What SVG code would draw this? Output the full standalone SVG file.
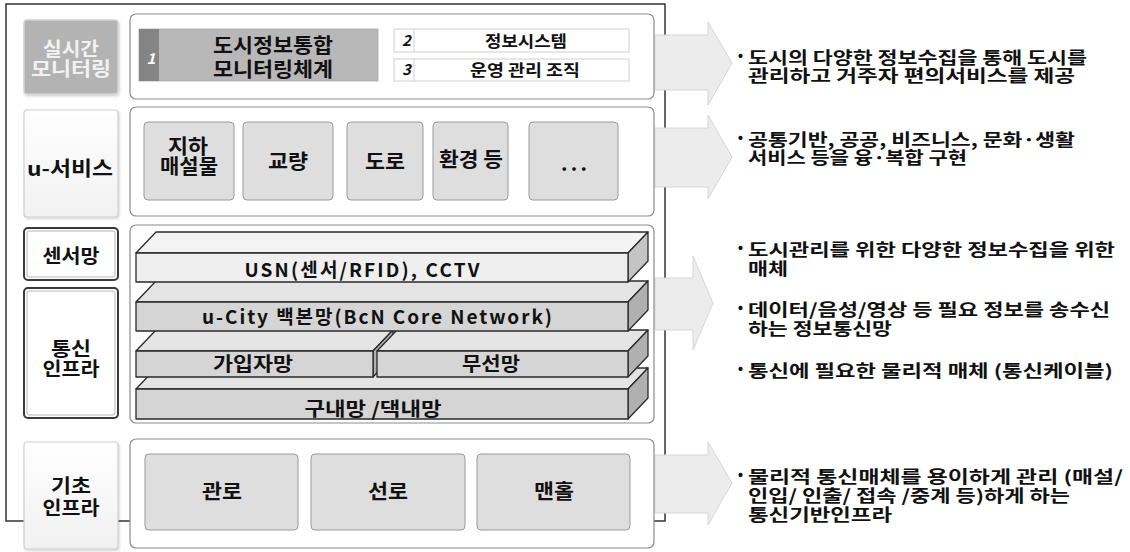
<svg xmlns="http://www.w3.org/2000/svg" width="1130" height="552" viewBox="0 0 1130 552">
<defs>
<style>
text{font-family:"Noto Sans CJK KR","Liberation Sans",sans-serif;font-weight:bold;fill:#111}
.c{text-anchor:middle}
.lbl{font-size:19px}
.rt{font-size:20px}
.ds{font-size:17px}
.bul{font-size:22px}
.panel{fill:#fff;stroke:#8c8c8c;stroke-width:1.2}
.gbox{fill:#dedede;stroke:#9a9a9a;stroke-width:1}
.arrow{fill:#ececec;stroke:#d6d6d6;stroke-width:1}
.slab{stroke:#2a2a2a;stroke-width:1.3;stroke-linejoin:round}
.num{font-style:italic;font-size:15px}
</style>
<linearGradient id="wg" x1="0" y1="0" x2="0" y2="1">
<stop offset="0" stop-color="#ffffff"/>
<stop offset="1" stop-color="#f1f1f1"/>
</linearGradient>
<filter id="sh" x="-10%" y="-10%" width="130%" height="130%">
<feDropShadow dx="1" dy="1.5" stdDeviation="1.2" flood-color="#000" flood-opacity="0.18"/>
</filter>
</defs>

<!-- outer frame -->
<rect x="6" y="4" width="659" height="517" fill="none" stroke="#333" stroke-width="1.5"/>

<!-- connectors: arrows -->
<g id="connectors">
<polygon class="arrow" points="655,35 708,35 708,22 732,63 708,105 708,90 655,90"/>
<polygon class="arrow" points="655,128 708,128 708,115 732,157 708,199 708,187 655,187"/>
<polygon class="arrow" points="655,278 693,278 693,256 713,303 693,350 693,330 655,330"/>
<polygon class="arrow" points="655,455 708,455 708,442 732,483 708,525 708,513 655,513"/>
</g>

<!-- left labels -->
<g id="label-realtime">
<rect x="24" y="20" width="94" height="74" rx="3" fill="#b3b3b3" stroke="#d4d4d4" stroke-width="1.5" filter="url(#sh)"/>
<text class="c lbl" style="fill:#f2f2f2"><tspan x="71" y="56" textLength="56" lengthAdjust="spacingAndGlyphs">실시간</tspan><tspan x="71" y="76" textLength="80" lengthAdjust="spacingAndGlyphs">모니터링</tspan></text>
</g>
<g id="label-uservice">
<rect x="24" y="110" width="94" height="107" rx="3" fill="url(#wg)" stroke="#cfcfcf" stroke-width="1.2" filter="url(#sh)"/>
<text class="c" x="70" y="176" style="font-size:20px" textLength="86" lengthAdjust="spacingAndGlyphs">u-서비스</text>
</g>
<g id="label-sensor">
<rect x="24" y="228" width="94" height="52" rx="4" fill="#fff" stroke="#3a3a3a" stroke-width="2"/>
<rect x="27" y="231" width="88" height="46" rx="2" fill="none" stroke="#b5b5b5" stroke-width="1"/>
<text class="c lbl" x="71" y="263" textLength="57" lengthAdjust="spacingAndGlyphs">센서망</text>
</g>
<g id="label-comm">
<rect x="24" y="288" width="94" height="130" rx="4" fill="#fff" stroke="#3a3a3a" stroke-width="2"/>
<rect x="27" y="291" width="88" height="124" rx="2" fill="none" stroke="#b5b5b5" stroke-width="1"/>
<text class="c lbl"><tspan x="71" y="356" textLength="40" lengthAdjust="spacingAndGlyphs">통신</tspan><tspan x="71" y="376" textLength="57" lengthAdjust="spacingAndGlyphs">인프라</tspan></text>
</g>
<g id="label-base">
<rect x="24" y="442" width="94" height="107" rx="3" fill="url(#wg)" stroke="#cfcfcf" stroke-width="1.2" filter="url(#sh)"/>
<text class="c lbl"><tspan x="71" y="493" textLength="40" lengthAdjust="spacingAndGlyphs">기초</tspan><tspan x="71" y="515" textLength="57" lengthAdjust="spacingAndGlyphs">인프라</tspan></text>
</g>

<!-- panel 1 -->
<g id="panel-monitoring">
<rect class="panel" x="130" y="14" width="524" height="85" rx="6"/>
<rect x="139" y="29" width="239" height="52" fill="#b8b8b8" stroke="#a8a8a8" stroke-width="0.8"/>
<rect x="139" y="29" width="20" height="52" fill="#858585"/>
<text x="151" y="64" class="c" style="font-size:15px;font-style:italic;fill:#fff">1</text>
<text class="c" style="font-size:20px"><tspan x="273" y="53" textLength="120" lengthAdjust="spacingAndGlyphs">도시정보통합</tspan><tspan x="273" y="77" textLength="120" lengthAdjust="spacingAndGlyphs">모니터링체계</tspan></text>
</g>
<g id="box-infosystem">
<rect x="394" y="29" width="235" height="23" fill="#fff" stroke="#cfcfcf" stroke-width="1"/>
<line x1="414" y1="29" x2="414" y2="52" stroke="#cfcfcf"/>
<text class="num" x="402" y="46">2</text>
<text class="c" x="526" y="47" style="font-size:16px" textLength="82" lengthAdjust="spacingAndGlyphs">정보시스템</text>
</g>
<g id="box-org">
<rect x="394" y="59" width="235" height="22" fill="#fff" stroke="#cfcfcf" stroke-width="1"/>
<line x1="414" y1="59" x2="414" y2="81" stroke="#cfcfcf"/>
<text class="num" x="402" y="75">3</text>
<text class="c" x="525" y="76" style="font-size:16px" textLength="110" lengthAdjust="spacingAndGlyphs">운영 관리 조직</text>
</g>

<!-- panel 2 -->
<g id="panel-uservice">
<rect class="panel" x="130" y="107" width="524" height="109" rx="6"/>
</g>
<g id="svc-underground">
<rect class="gbox" x="144" y="122" width="90" height="78" rx="4"/>
<text class="c rt"><tspan x="188" y="154" textLength="40" lengthAdjust="spacingAndGlyphs">지하</tspan><tspan x="189" y="174" textLength="58" lengthAdjust="spacingAndGlyphs">매설물</tspan></text>
</g>
<g id="svc-bridge">
<rect class="gbox" x="243" y="122" width="90" height="78" rx="4"/>
<text class="c rt" x="288" y="169" textLength="40" lengthAdjust="spacingAndGlyphs">교량</text>
</g>
<g id="svc-road">
<rect class="gbox" x="347" y="122" width="76" height="78" rx="4"/>
<text class="c rt" x="385" y="169" textLength="40" lengthAdjust="spacingAndGlyphs">도로</text>
</g>
<g id="svc-env">
<rect class="gbox" x="433" y="122" width="75" height="78" rx="4"/>
<text class="c rt" x="471" y="167" textLength="64" lengthAdjust="spacingAndGlyphs">환경 등</text>
</g>
<g id="svc-more">
<rect class="gbox" x="529" y="122" width="89" height="78" rx="4"/>
<text class="c rt" x="574" y="171" textLength="26" lengthAdjust="spacing">...</text>
</g>

<!-- panel 3 -->
<g id="panel-network">
<rect class="panel" x="130" y="225" width="524" height="198" rx="6"/>
</g>
<g id="slab-inhouse">
<polygon class="slab" fill="#e4e4e4" points="136,389 156,368 648,368 628,389"/>
<polygon class="slab" fill="#b0b0b0" points="628,389 648,368 648,398 628,419"/>
<rect class="slab" x="136" y="389" width="492" height="30" fill="#d5d5d5"/>
<text class="c" x="373" y="416" style="font-size:19px" textLength="137" lengthAdjust="spacingAndGlyphs">구내망 /댁내망</text>
</g>
<g id="slab-subscriber">
<polygon class="slab" fill="#e4e4e4" points="136,351 156,330 393,330 373,351"/>
<polygon class="slab" fill="#b0b0b0" points="373,351 393,330 393,356 373,377"/>
<rect class="slab" x="136" y="351" width="237" height="26" fill="#d5d5d5"/>
<text class="c" x="253" y="371" style="font-size:19px" textLength="80" lengthAdjust="spacingAndGlyphs">가입자망</text>
</g>
<g id="slab-wireless">
<polygon class="slab" fill="#e4e4e4" points="377,351 397,330 648,330 628,351"/>
<polygon class="slab" fill="#b0b0b0" points="628,351 648,330 648,356 628,377"/>
<rect class="slab" x="377" y="351" width="251" height="26" fill="#d5d5d5"/>
<text class="c" x="491" y="371" style="font-size:19px" textLength="58" lengthAdjust="spacingAndGlyphs">무선망</text>
</g>
<g id="slab-backbone">
<polygon class="slab" fill="#e4e4e4" points="136,302 156,281 648,281 628,302"/>
<polygon class="slab" fill="#b0b0b0" points="628,302 648,281 648,310 628,331"/>
<rect class="slab" x="136" y="302" width="492" height="29" fill="#d5d5d5"/>
<text class="c" x="377" y="324" style="font-size:19px" textLength="350">u-City 백본망(BcN Core Network)</text>
</g>
<g id="slab-usn">
<polygon class="slab" fill="#f3f3f3" points="136,253 156,232 648,232 628,253"/>
<polygon class="slab" fill="#c4c4c4" points="628,253 648,232 648,261 628,282"/>
<rect class="slab" x="136" y="253" width="492" height="29" fill="#efefef"/>
<text class="c" x="362" y="277" style="font-size:19px" textLength="235">USN(센서/RFID), CCTV</text>
</g>

<!-- panel 4 -->
<g id="panel-base">
<rect class="panel" x="130" y="439" width="524" height="109" rx="6"/>
</g>
<g id="base-conduit">
<rect class="gbox" x="145" y="454" width="153" height="76" rx="4"/>
<text class="c rt" x="222" y="499" textLength="40" lengthAdjust="spacingAndGlyphs">관로</text>
</g>
<g id="base-line">
<rect class="gbox" x="311" y="454" width="154" height="76" rx="4"/>
<text class="c rt" x="388" y="499" textLength="40" lengthAdjust="spacingAndGlyphs">선로</text>
</g>
<g id="base-manhole">
<rect class="gbox" x="477" y="454" width="153" height="76" rx="4"/>
<text class="c rt" x="554" y="499" textLength="40" lengthAdjust="spacingAndGlyphs">맨홀</text>
</g>

<!-- right descriptions -->
<g id="desc-1">
<text class="ds"><tspan class="bul" x="734" y="64">·</tspan><tspan x="748" y="64" textLength="339" lengthAdjust="spacingAndGlyphs">도시의 다양한 정보수집을 통해 도시를</tspan><tspan x="748" y="82" textLength="327" lengthAdjust="spacingAndGlyphs">관리하고  거주자 편의서비스를 제공</tspan></text>
</g>
<g id="desc-2">
<text class="ds"><tspan class="bul" x="734" y="146">·</tspan><tspan x="748" y="146" textLength="327" lengthAdjust="spacingAndGlyphs">공통기반, 공공, 비즈니스, 문화·생활</tspan><tspan x="748" y="164" textLength="219" lengthAdjust="spacingAndGlyphs">서비스 등을 융·복합 구현</tspan></text>
</g>
<g id="desc-3">
<text class="ds"><tspan class="bul" x="734" y="256">·</tspan><tspan x="748" y="256" textLength="367" lengthAdjust="spacingAndGlyphs">도시관리를 위한 다양한 정보수집을 위한</tspan><tspan x="748" y="275" textLength="40" lengthAdjust="spacingAndGlyphs">매체</tspan></text>
<text class="ds"><tspan class="bul" x="734" y="316">·</tspan><tspan x="748" y="316" textLength="362" lengthAdjust="spacingAndGlyphs">데이터/음성/영상 등 필요 정보를 송수신</tspan><tspan x="748" y="335" textLength="144" lengthAdjust="spacingAndGlyphs">하는 정보통신망</tspan></text>
<text class="ds"><tspan class="bul" x="734" y="377">·</tspan><tspan x="748" y="377" textLength="365" lengthAdjust="spacingAndGlyphs">통신에 필요한 물리적 매체 (통신케이블)</tspan></text>
</g>
<g id="desc-4">
<text class="ds"><tspan class="bul" x="734" y="483">·</tspan><tspan x="748" y="483" textLength="375" lengthAdjust="spacingAndGlyphs">물리적 통신매체를  용이하게 관리 (매설/</tspan><tspan x="748" y="502" textLength="322" lengthAdjust="spacingAndGlyphs">인입/ 인출/ 접속 /중계 등)하게 하는</tspan><tspan x="748" y="521" textLength="144" lengthAdjust="spacingAndGlyphs">통신기반인프라</tspan></text>
</g>
</svg>
